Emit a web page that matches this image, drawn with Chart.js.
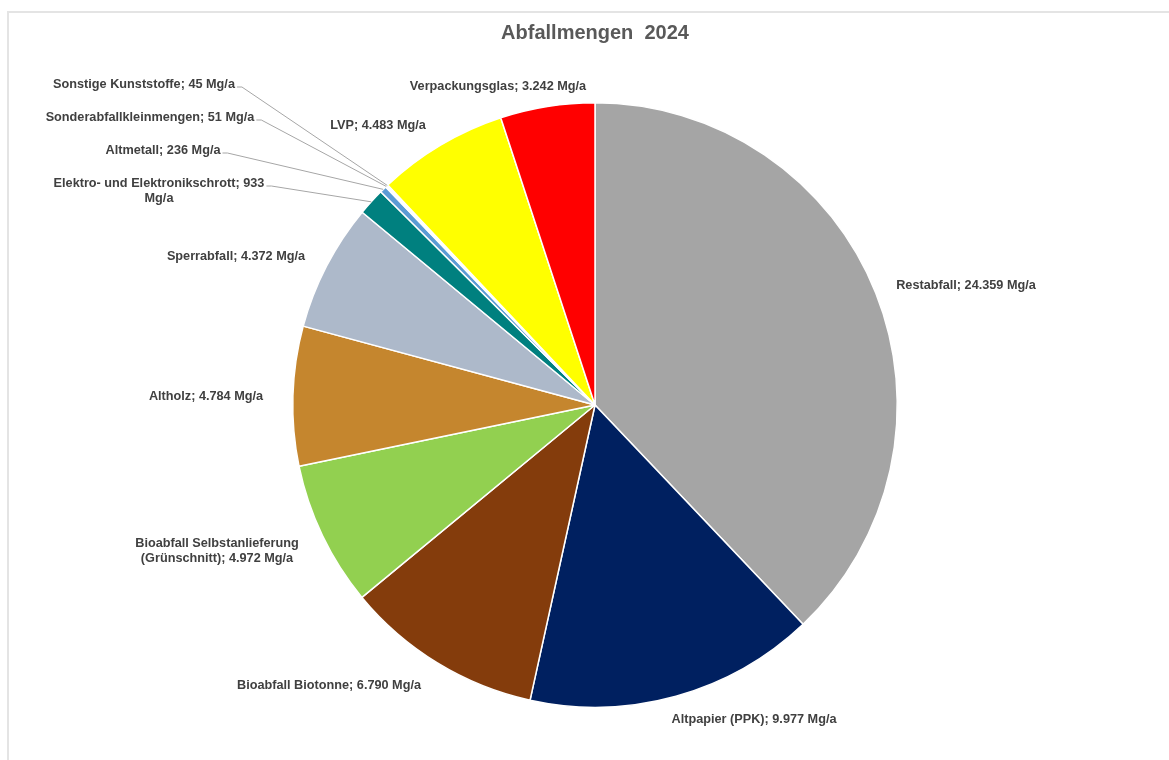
<!DOCTYPE html>
<html lang="de">
<head>
<meta charset="utf-8">
<title>Abfallmengen 2024</title>
<script src="https://cdn.jsdelivr.net/npm/chart.js@4"></script>
<style>
    html, body { margin: 0; padding: 0; background: #fff; }
    #wrap { position: relative; width: 1169px; height: 760px; overflow: hidden; }
    #frame {
        position: absolute; left: 7px; top: 11px; width: 1200px; height: 800px;
        border-left: 2px solid #e4e4e4; border-top: 2px solid #e4e4e4;
    }
    #chart { position: absolute; left: 0; top: 0; }
</style>
</head>
<body>
<div id="wrap">
    <div id="frame"></div>
    <canvas id="chart" width="1169" height="760"></canvas>
</div>
<script>
// Abfallmengen 2024 (Mg/a), clockwise from 12 o'clock
const categories = [
    'Restabfall',
    'Altpapier (PPK)',
    'Bioabfall Biotonne',
    'Bioabfall Selbstanlieferung (Grünschnitt)',
    'Altholz',
    'Sperrabfall',
    'Elektro- und Elektronikschrott',
    'Altmetall',
    'Sonderabfallkleinmengen',
    'Sonstige Kunststoffe',
    'LVP',
    'Verpackungsglas'
];
const amounts = [24359, 9977, 6790, 4972, 4784, 4372, 933, 236, 51, 45, 4483, 3242];
const sliceColors = [
    '#A5A5A5', '#002060', '#843C0C', '#92D050', '#C5862E', '#ADB9CA',
    '#00807F', '#5B9BD5', '#7F7F7F', '#4472C4', '#FFFF00', '#FF0000'
];

// where each data label sits (text centre), wrap width, leader line yes/no
const labelLayout = [
    { x: 966, y: 285 },
    { x: 754, y: 719 },
    { x: 329, y: 685 },
    { x: 217, y: 543, wrap: 175 },
    { x: 206, y: 396 },
    { x: 236, y: 256 },
    { x: 159, y: 183, wrap: 220, leader: true },
    { x: 163, y: 150, leader: true },
    { x: 150, y: 117, leader: true },
    { x: 144, y: 84, leader: true },
    { x: 378, y: 125 },
    { x: 498, y: 86 }
];

function formatDe(n) {
    return String(n).replace(/\B(?=(\d{3})+(?!\d))/g, '.');
}

function wrapText(ctx, text, maxWidth) {
    if (!maxWidth) return [text];
    const words = text.split(' ');
    const lines = [];
    let line = '';
    words.forEach(w => {
        const test = line ? line + ' ' + w : w;
        if (line && ctx.measureText(test).width > maxWidth) {
            lines.push(line);
            line = w;
        } else {
            line = test;
        }
    });
    if (line) lines.push(line);
    return lines;
}

const pieLabels = {
    id: 'pieLabels',
    afterDraw(chart) {
        const ctx = chart.ctx;
        const meta = chart.getDatasetMeta(0);
        ctx.save();
        ctx.font = 'bold 12.7px "Liberation Sans", Arial, sans-serif';
        ctx.fillStyle = '#404040';
        ctx.textAlign = 'center';
        ctx.textBaseline = 'middle';
        const lineH = 15;

        meta.data.forEach((arc, i) => {
            const pos = labelLayout[i];
            const text = categories[i] + '; ' + formatDe(amounts[i]) + ' Mg/a';
            const lines = wrapText(ctx, text, pos.wrap);
            lines.forEach((l, k) => ctx.fillText(l, pos.x, pos.y + k * lineH));

            if (pos.leader) {
                const w = ctx.measureText(lines[0]).width;
                const sx = pos.x + w / 2 + 2;
                const sy = pos.y + 3;
                const p = arc.getProps(['x', 'y', 'startAngle', 'endAngle', 'outerRadius'], true);
                const mid = (p.startAngle + p.endAngle) / 2;
                const ex = p.x + Math.cos(mid) * p.outerRadius;
                const ey = p.y + Math.sin(mid) * p.outerRadius;
                ctx.beginPath();
                ctx.strokeStyle = '#A6A6A6';
                ctx.lineWidth = 1;
                ctx.moveTo(sx, sy);
                ctx.lineTo(sx + 5, sy);
                ctx.lineTo(ex, ey);
                ctx.stroke();
            }
        });
        ctx.restore();
    }
};

new Chart(document.getElementById('chart').getContext('2d'), {
    type: 'pie',
    data: {
        labels: categories,
        datasets: [{
            data: amounts,
            backgroundColor: sliceColors,
            borderColor: '#ffffff',
            borderWidth: 1.5,
            hoverOffset: 0
        }]
    },
    options: {
        responsive: false,
        animation: false,
        layout: {
            padding: { left: 292, right: 271, top: 0, bottom: 52 }
        },
        plugins: {
            legend: { display: false },
            tooltip: { enabled: false },
            title: {
                display: true,
                text: 'Abfallmengen  2024',
                color: '#595959',
                font: { family: '"Liberation Sans", Arial, sans-serif', size: 20, weight: 'bold' },
                padding: { top: 21, bottom: 57 }
            }
        }
    },
    plugins: [pieLabels]
});
</script>
</body>
</html>
